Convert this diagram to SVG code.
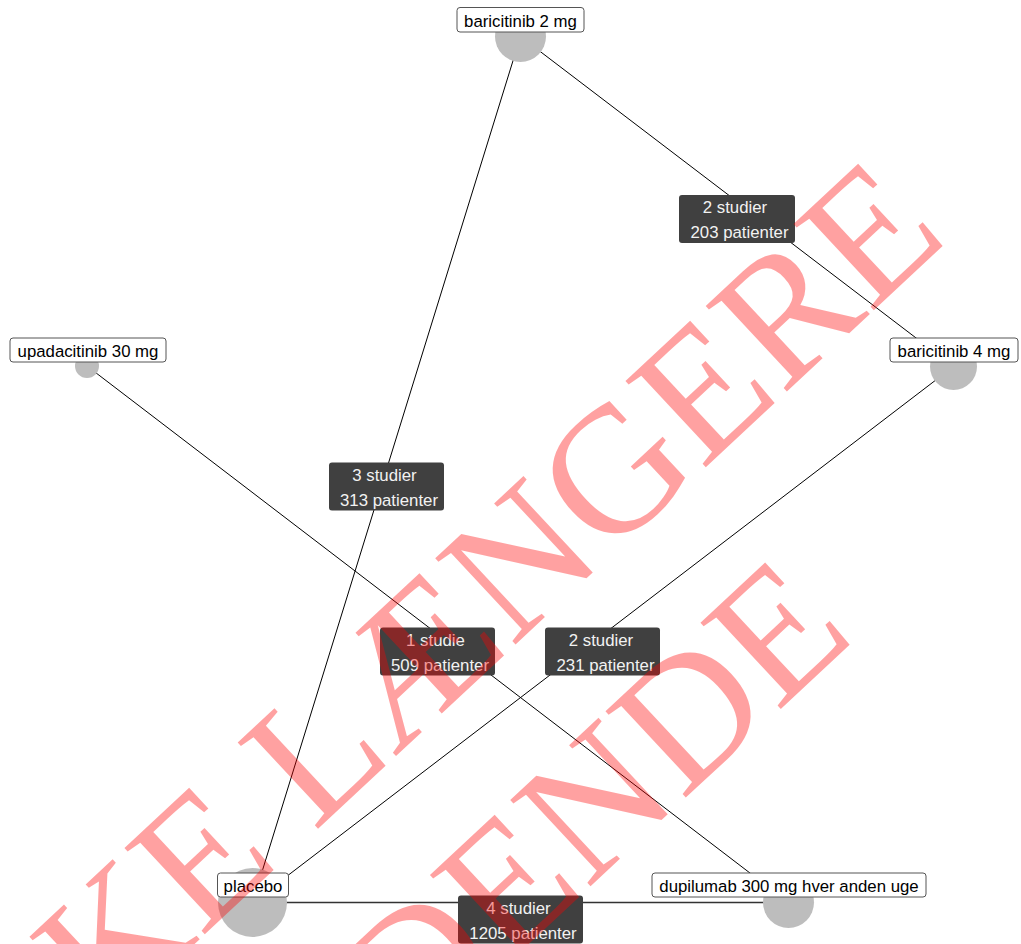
<svg xmlns="http://www.w3.org/2000/svg" width="1021" height="944" viewBox="0 0 1021 944">
<style>
.edge{stroke:#000;stroke-width:1;fill:none}
.node circle{fill:#bdbdbd}
.node rect{fill:#fff;stroke:#555;stroke-width:1}
.node text{font-family:"Liberation Sans",Arial,sans-serif;font-size:16.8px;fill:#000;text-anchor:middle}
.elab rect{fill:#404040}
.elab text{font-family:"Liberation Sans",Arial,sans-serif;font-size:16.8px;fill:#f2f2f2;text-anchor:middle}
.wm{font-family:"Liberation Serif","Times New Roman",serif;font-size:180px;fill:#ff0000;fill-opacity:0.37}
</style>
<rect width="1021" height="944" fill="#fff"/>
<g id="connectors">
<line class="edge" x1="520.5" y1="36.5" x2="953.5" y2="366.5"/>
<line class="edge" x1="520.5" y1="36.5" x2="252.5" y2="902.5"/>
<line class="edge" x1="87" y1="366" x2="788.5" y2="902.5"/>
<line class="edge" x1="953.5" y1="366.5" x2="252.5" y2="902.5"/>
<line class="edge" x1="252.5" y1="902.5" x2="788.5" y2="902.5" style="stroke:#333;stroke-width:1.6"/>
</g>
<g id="node-baricitinib2" class="node">
<circle cx="520.5" cy="36.5" r="25.5"/>
<rect x="457" y="7.5" width="127" height="24.5" rx="3"/>
<text x="520.5" y="26.5">baricitinib 2 mg</text>
</g>
<g id="node-upadacitinib30" class="node">
<circle cx="87" cy="366" r="12"/>
<rect x="10" y="338" width="156" height="24" rx="3"/>
<text x="88" y="356.5">upadacitinib 30 mg</text>
</g>
<g id="node-baricitinib4" class="node">
<circle cx="953.5" cy="366.5" r="23.5"/>
<rect x="890" y="338" width="128" height="24" rx="3"/>
<text x="954" y="356.5">baricitinib 4 mg</text>
</g>
<g id="node-placebo" class="node">
<circle cx="252.5" cy="902.5" r="34.5"/>
<rect x="217.5" y="873" width="71" height="24" rx="3"/>
<text x="253" y="891.5">placebo</text>
</g>
<g id="node-dupilumab" class="node">
<circle cx="788.5" cy="902.5" r="25.5"/>
<rect x="652" y="873" width="274" height="24" rx="3"/>
<text x="789" y="891.5">dupilumab 300 mg hver anden uge</text>
</g>
<g id="elabel-bari2-bari4" class="elab">
<rect x="679" y="195" width="116" height="48" rx="3"/>
<text x="735" y="213">2 studier</text>
<text x="739.5" y="238">203 patienter</text>
</g>
<g id="elabel-bari2-placebo" class="elab">
<rect x="329" y="462.5" width="115" height="48" rx="3"/>
<text x="384.5" y="481">3 studier</text>
<text x="389" y="506">313 patienter</text>
</g>
<g id="elabel-upa-dupi" class="elab">
<rect x="380" y="627.5" width="115" height="48" rx="3"/>
<text x="435.5" y="646">1 studie</text>
<text x="440" y="671">509 patienter</text>
</g>
<g id="elabel-bari4-placebo" class="elab">
<rect x="545" y="627.5" width="115" height="48" rx="3"/>
<text x="601" y="646">2 studier</text>
<text x="605.5" y="671">231 patienter</text>
</g>
<g id="elabel-placebo-dupi" class="elab">
<rect x="458" y="895.5" width="125" height="48" rx="3"/>
<text x="518.5" y="914">4 studier</text>
<text x="523" y="939">1205 patienter</text>
</g>
<g id="watermark" transform="translate(-33,1156) rotate(-43)">
<text class="wm" x="0" y="0">IKKE LÆNGERE</text>
<text class="wm" x="-5" y="228">GÆLDENDE</text>
</g>
</svg>
